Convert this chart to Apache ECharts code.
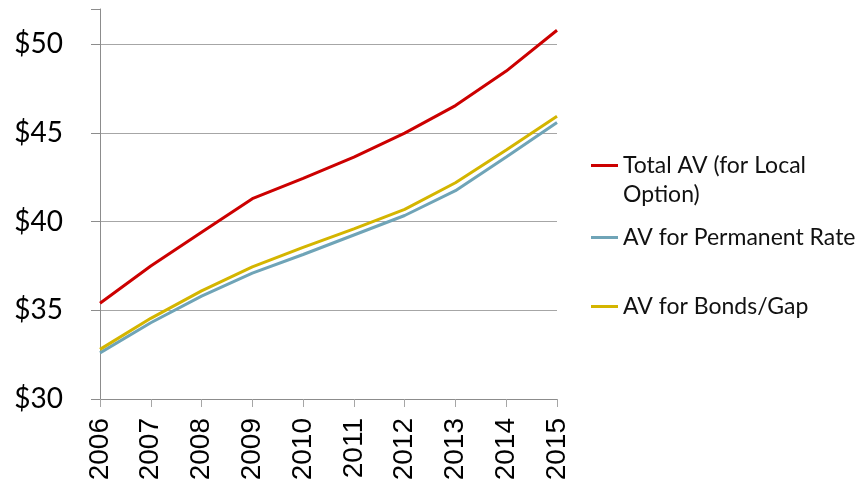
<!DOCTYPE html>
<html>
<head>
<meta charset="utf-8">
<script src="https://cdn.jsdelivr.net/npm/echarts@6/dist/echarts.min.js"></script>
<style>
  html, body { margin: 0; padding: 0; background: #fff; }
  #chart { width: 863px; height: 490px; }
</style>
</head>
<body>
<div id="chart"></div>
<script>
// Assessed value by year (in dollars, per the axis)
const years = ['2006', '2007', '2008', '2009', '2010', '2011', '2012', '2013', '2014', '2015'];
const totalAV = [35.4, 37.5, 39.4, 41.3, 42.45, 43.65, 45.0, 46.55, 48.5, 50.8];
const permanentAV = [32.6, 34.3, 35.8, 37.1, 38.15, 39.25, 40.35, 41.75, 43.65, 45.6];
const bondsAV = [32.8, 34.55, 36.1, 37.45, 38.55, 39.6, 40.7, 42.2, 44.05, 45.95];
const yTicks = [30, 35, 40, 45, 50];

const seriesNames = ['Total AV (for Local\nOption)', 'AV for Permanent Rate', 'AV for Bonds/Gap'];
const colors = ['#cc0000', '#6fa4b7', '#d4b500'];

const chart = echarts.init(document.getElementById('chart'));

const legendText = { fontFamily: 'Lato', fontSize: 23, color: '#111', lineHeight: 29 };
// short line key; the two-line entry uses a taller box so the line sits beside its first line
const keyLine = 'path://M0,0 L27,0 L27,3 L0,3 Z';
const keyLineTop = 'path://M0,0 L27,0 L27,3 L0,3 Z M0,32 L27,32 L0,32 Z';
function legendAt(name, top, icon, h) {
  return {
    data: [name],
    left: 586,
    top: top,
    orient: 'vertical',
    itemWidth: 27,
    itemHeight: h,
    icon: icon,
    selectedMode: false,
    textStyle: legendText
  };
}

chart.setOption({
  animation: false,
  color: colors,
  grid: { left: 100, right: 306, top: 9, bottom: 91, outerBoundsMode: 'none' },
  legend: [
    legendAt(seriesNames[0], 146, keyLineTop, 32),
    legendAt(seriesNames[1], 218, keyLine, 3),
    legendAt(seriesNames[2], 287, keyLine, 3)
  ],
  xAxis: {
    type: 'category',
    data: years,
    boundaryGap: false,
    axisLine: { lineStyle: { color: '#8c8c8c', width: 1 } },
    axisTick: { show: true, length: 8, lineStyle: { color: '#a6a6a6' } },
    axisLabel: {
      rotate: 90,
      margin: 19,
      fontFamily: 'Liberation Sans',
      fontSize: 28,
      color: '#000'
    },
    splitLine: { show: false }
  },
  yAxis: {
    type: 'value',
    min: 30,
    max: 52,
    interval: 5,
    axisLine: { show: true, lineStyle: { color: '#8c8c8c', width: 1 } },
    axisTick: { show: true, length: 9, lineStyle: { color: '#8c8c8c' } },
    axisLabel: {
      customValues: yTicks,
      margin: 37,
      fontFamily: 'Lato',
      fontSize: 28,
      color: '#000',
      formatter: v => '$' + v
    },
    splitLine: { show: true, showMinLine: false, showMaxLine: false, lineStyle: { color: '#a6a6a6', width: 1 } }
  },
  series: [
    { name: seriesNames[0], type: 'line', data: totalAV, symbol: 'none', lineStyle: { width: 3 } },
    { name: seriesNames[1], type: 'line', data: permanentAV, symbol: 'none', lineStyle: { width: 3 } },
    { name: seriesNames[2], type: 'line', data: bondsAV, symbol: 'none', lineStyle: { width: 3 } }
  ]
});
</script>
</body>
</html>
